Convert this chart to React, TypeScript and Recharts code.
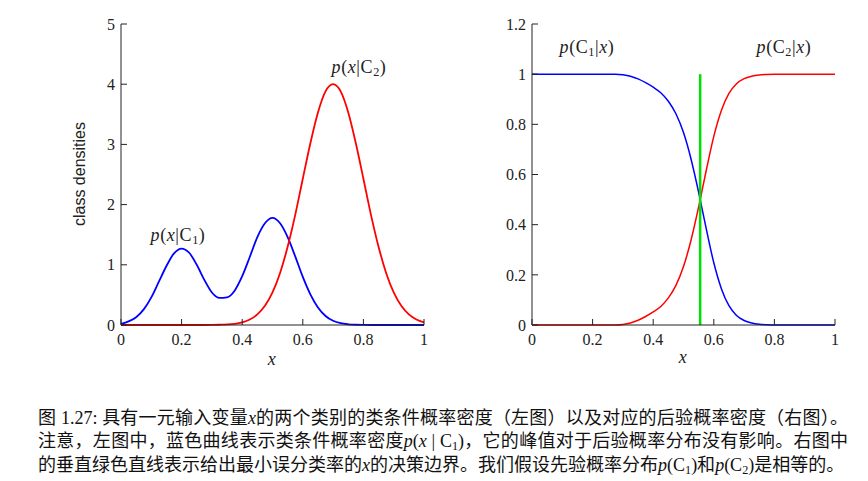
import React from 'react';
import { LineChart, Line, XAxis, YAxis, ReferenceLine } from 'recharts';

const xValues = [
  0, 0.025, 0.05, 0.075, 0.1, 0.125, 0.15, 0.175, 0.2, 0.225, 0.25, 0.275, 0.3, 0.325,
  0.35, 0.375, 0.4, 0.425, 0.45, 0.475, 0.5, 0.525, 0.55, 0.575, 0.6, 0.625, 0.65,
  0.675, 0.7, 0.725, 0.75, 0.775, 0.8, 0.825, 0.85, 0.875, 0.9, 0.925, 0.95, 0.975, 1,
];

// p(x|C1) - blue, two bumps
const densityC1 = [
  0.02, 0.06, 0.13, 0.26, 0.46, 0.72, 0.98, 1.19, 1.27, 1.2, 1.0, 0.75, 0.54, 0.45,
  0.46, 0.57, 0.81, 1.13, 1.46, 1.69, 1.78, 1.69, 1.46, 1.14, 0.8, 0.51, 0.29,
  0.15, 0.07, 0.03, 0.012, 0.004, 0.001, 0, 0, 0, 0, 0, 0, 0, 0,
];

// p(x|C2) - red, single bump at 0.7
const densityC2 = [
  0, 0, 0, 0, 0, 0, 0, 0, 0, 0, 0, 0, 0.001, 0.004,
  0.009, 0.02, 0.044, 0.091, 0.176, 0.318, 0.541, 0.865, 1.3, 1.83, 2.43, 3.02, 3.53,
  3.88, 4.0, 3.88, 3.53, 3.02, 2.43, 1.83, 1.3, 0.865, 0.541, 0.318, 0.176, 0.091, 0.044,
];

const posteriorC1 = [
  1, 1, 1, 1, 1, 1, 1, 1, 1, 1, 1, 1, 0.998, 0.992,
  0.981, 0.966, 0.948, 0.926, 0.892, 0.842, 0.767, 0.661, 0.529, 0.384, 0.248, 0.145, 0.077,
  0.038, 0.018, 0.008, 0.003, 0.001, 0, 0, 0, 0, 0, 0, 0, 0, 0,
];

const posteriorC2 = [
  0, 0, 0, 0, 0, 0, 0, 0, 0, 0, 0, 0, 0.002, 0.008,
  0.019, 0.034, 0.052, 0.074, 0.108, 0.158, 0.233, 0.339, 0.471, 0.616, 0.752, 0.855, 0.923,
  0.962, 0.982, 0.992, 0.997, 0.999, 1, 1, 1, 1, 1, 1, 1, 1, 1,
];

const xTicks = [0, 0.2, 0.4, 0.6, 0.8, 1];
const densityTicks = [0, 1, 2, 3, 4, 5];
const posteriorTicks = [0, 0.2, 0.4, 0.6, 0.8, 1, 1.2];
const decisionBoundary = 0.555;

const densityRows = xValues.map((x, i) => ({ x, a: densityC1[i], b: densityC2[i] }));
const posteriorRows = xValues.map((x, i) => ({ x, a: posteriorC1[i], b: posteriorC2[i] }));

const INK = '#222';
const SERIF = '"Liberation Serif", "Times New Roman", serif';
const tickStyle = { fill: INK, fontSize: 16, fontFamily: SERIF };

interface PanelProps {
  rows: { x: number; a: number; b: number }[];
  yTicks: number[];
  yMax: number;
  width: number;
  yAxisWidth: number;
  marginRight: number;
  strokeWidth: number;
  children?: React.ReactNode;
}

const Panel = ({ rows, yTicks, yMax, width, yAxisWidth, marginRight, strokeWidth, children }: PanelProps) => (
  <LineChart width={width} height={380} data={rows} margin={{ top: 24, right: marginRight, left: 0, bottom: 25 }}>
    <XAxis
      type="number" dataKey="x" domain={[0, 1]} ticks={xTicks} interval={0}
      height={30} tickSize={-6} tickMargin={15}
      axisLine={{ stroke: INK }} tickLine={{ stroke: INK }} tick={tickStyle}
    />
    <XAxis
      xAxisId="top" orientation="top" type="number" dataKey="x" domain={[0, 1]} ticks={xTicks}
      interval={0} height={0} tickSize={-6} tick={false}
      axisLine={{ stroke: INK }} tickLine={{ stroke: INK }}
    />
    <YAxis
      type="number" domain={[0, yMax]} ticks={yTicks} interval={0} width={yAxisWidth}
      tickSize={-6} tickMargin={12}
      axisLine={{ stroke: INK }} tickLine={{ stroke: INK }} tick={tickStyle}
    />
    <YAxis
      yAxisId="right" orientation="right" type="number" domain={[0, yMax]} ticks={yTicks}
      interval={0} width={0} tickSize={-6} tick={false}
      axisLine={{ stroke: INK }} tickLine={{ stroke: INK }}
    />
    <Line type="monotone" dataKey="a" stroke="#0000ff" strokeWidth={strokeWidth} dot={false} isAnimationActive={false} />
    <Line type="monotone" dataKey="b" stroke="#ff0000" strokeWidth={strokeWidth} dot={false} isAnimationActive={false} />
    {children}
  </LineChart>
);

const Sub = ({ children }: { children: React.ReactNode }) => (
  <span style={{ fontSize: '0.68em', position: 'relative', top: '0.28em' }}>{children}</span>
);

const Label = ({ left, top, children, size = 18 }: { left: number; top: number; children: React.ReactNode; size?: number }) => (
  <div
    style={{
      position: 'absolute', left, top, transform: 'translate(-50%, -50%)',
      fontFamily: SERIF, fontSize: size, color: INK, whiteSpace: 'nowrap', lineHeight: 1,
      letterSpacing: 0.6,
    }}
  >
    {children}
  </div>
);

const captionLine: React.CSSProperties = {
  width: 810,
  textAlign: 'justify',
  textAlignLast: 'justify',
  whiteSpace: 'nowrap',
};

export default function App() {
  return (
    <div style={{ position: 'absolute', left: 0, top: 0, width: 868, height: 481, background: '#fff', overflow: 'hidden' }}>
      <div style={{ position: 'absolute', left: 0, top: 0 }}>
        <Panel rows={densityRows} yTicks={densityTicks} yMax={5} width={440} yAxisWidth={121} marginRight={16} strokeWidth={1.8} />
      </div>
      <div style={{ position: 'absolute', left: 440, top: 0 }}>
        <Panel rows={posteriorRows} yTicks={posteriorTicks} yMax={1.2} width={428} yAxisWidth={92} marginRight={33} strokeWidth={1.5}>
          <ReferenceLine
            segment={[{ x: decisionBoundary, y: 0 }, { x: decisionBoundary, y: 1 }]}
            stroke="#00e000" strokeWidth={2.5}
          />
        </Panel>
      </div>

      <div
        style={{
          position: 'absolute', left: 80, top: 174, transform: 'translate(-50%, -50%) rotate(-90deg)',
          fontFamily: '"Liberation Sans", Arial, sans-serif', fontSize: 16, color: INK, whiteSpace: 'nowrap',
        }}
      >
        class densities
      </div>
      <Label left={272} top={359}><i>x</i></Label>
      <Label left={683} top={357}><i>x</i></Label>

      <Label left={178} top={235}><i>p</i>(<i>x</i>|C<Sub>1</Sub>)</Label>
      <Label left={359} top={67}><i>p</i>(<i>x</i>|C<Sub>2</Sub>)</Label>
      <Label left={587} top={47}><i>p</i>(C<Sub>1</Sub>|<i>x</i>)</Label>
      <Label left={784} top={47}><i>p</i>(C<Sub>2</Sub>|<i>x</i>)</Label>

      <div
        style={{
          position: 'absolute', left: 38, top: 407, fontSize: 18, lineHeight: '22.5px', color: '#111',
          fontFamily: '"Liberation Serif", "Noto Sans CJK SC", serif',
        }}
      >
        <div style={captionLine}>
          图 1.27: 具有一元输入变量<i>x</i>的两个类别的类条件概率密度（左图）以及对应的后验概率密度（右图）。
        </div>
        <div style={captionLine}>
          注意，左图中，蓝色曲线表示类条件概率密度<i>p</i>(<i>x</i> | C<Sub>1</Sub>)，它的峰值对于后验概率分布没有影响。右图中
        </div>
        <div style={{ whiteSpace: 'nowrap' }}>
          的垂直绿色直线表示给出最小误分类率的<i>x</i>的决策边界。我们假设先验概率分布<i>p</i>(C<Sub>1</Sub>)和<i>p</i>(C<Sub>2</Sub>)是相等的。
        </div>
      </div>
    </div>
  );
}
